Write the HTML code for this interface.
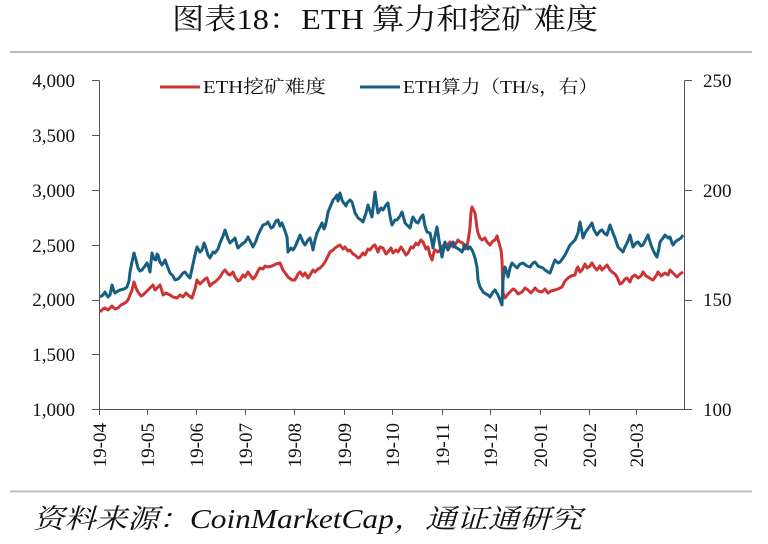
<!DOCTYPE html>
<html>
<head>
<meta charset="utf-8">
<style>
html,body{margin:0;padding:0;background:#fff;}
svg{display:block;}
</style>
</head>
<body>
<svg width="768" height="544" viewBox="0 0 768 544" xmlns="http://www.w3.org/2000/svg">
<rect width="768" height="544" fill="#fff"/>
<!-- title -->
<text x="172" y="29" font-family="'Liberation Serif','Noto Serif CJK SC',serif" font-size="29" fill="#111" textLength="426" lengthAdjust="spacingAndGlyphs">图表18：ETH 算力和挖矿难度</text>
<line x1="10" y1="52" x2="752" y2="52" stroke="#bdbdbd" stroke-width="2"/>
<line x1="10" y1="491.5" x2="752" y2="491.5" stroke="#bdbdbd" stroke-width="2"/>
<!-- footer -->
<text x="33" y="528" font-family="'Liberation Serif','Noto Serif CJK SC',serif" font-style="italic" font-size="27" fill="#111" textLength="549" lengthAdjust="spacingAndGlyphs">资料来源：CoinMarketCap，通证通研究</text>

<!-- axes -->
<g stroke="#555" stroke-width="1" fill="none">
<line x1="99.5" y1="80.5" x2="99.5" y2="409.5"/>
<line x1="684.5" y1="80.5" x2="684.5" y2="409.5"/>
<line x1="92" y1="409.5" x2="684.5" y2="409.5"/>
<line x1="92" y1="80.5" x2="99.5" y2="80.5"/>
<line x1="92" y1="135.5" x2="99.5" y2="135.5"/>
<line x1="92" y1="190.5" x2="99.5" y2="190.5"/>
<line x1="92" y1="245.5" x2="99.5" y2="245.5"/>
<line x1="92" y1="300.5" x2="99.5" y2="300.5"/>
<line x1="92" y1="354.5" x2="99.5" y2="354.5"/>
<line x1="684.5" y1="80.5" x2="692" y2="80.5"/>
<line x1="684.5" y1="190.5" x2="692" y2="190.5"/>
<line x1="684.5" y1="300.5" x2="692" y2="300.5"/>
<line x1="684.5" y1="409.5" x2="692" y2="409.5"/>
<line x1="99.5" y1="409.5" x2="99.5" y2="415"/>
<line x1="147.5" y1="409.5" x2="147.5" y2="415"/>
<line x1="196.5" y1="409.5" x2="196.5" y2="415"/>
<line x1="245.5" y1="409.5" x2="245.5" y2="415"/>
<line x1="294.5" y1="409.5" x2="294.5" y2="415"/>
<line x1="344.5" y1="409.5" x2="344.5" y2="415"/>
<line x1="392.5" y1="409.5" x2="392.5" y2="415"/>
<line x1="442.5" y1="409.5" x2="442.5" y2="415"/>
<line x1="490.5" y1="409.5" x2="490.5" y2="415"/>
<line x1="540.5" y1="409.5" x2="540.5" y2="415"/>
<line x1="589.5" y1="409.5" x2="589.5" y2="415"/>
<line x1="636.5" y1="409.5" x2="636.5" y2="415"/>
</g>

<!-- left labels -->
<g font-family="'Liberation Serif',serif" font-size="19" fill="#111" text-anchor="end">
<text x="75" y="87">4,000</text>
<text x="75" y="142">3,500</text>
<text x="75" y="197">3,000</text>
<text x="75" y="252">2,500</text>
<text x="75" y="306">2,000</text>
<text x="75" y="361">1,500</text>
<text x="75" y="416">1,000</text>
</g>
<!-- right labels -->
<g font-family="'Liberation Serif',serif" font-size="19" fill="#111">
<text x="703" y="87">250</text>
<text x="703" y="197">200</text>
<text x="703" y="306">150</text>
<text x="703" y="416">100</text>
</g>
<!-- x labels -->
<g font-family="'Liberation Serif',serif" font-size="19" fill="#111" text-anchor="end">
<text transform="translate(106,423) rotate(-90)">19-04</text>
<text transform="translate(154,423) rotate(-90)">19-05</text>
<text transform="translate(203,423) rotate(-90)">19-06</text>
<text transform="translate(252,423) rotate(-90)">19-07</text>
<text transform="translate(301,423) rotate(-90)">19-08</text>
<text transform="translate(351,423) rotate(-90)">19-09</text>
<text transform="translate(399,423) rotate(-90)">19-10</text>
<text transform="translate(449,423) rotate(-90)">19-11</text>
<text transform="translate(497,423) rotate(-90)">19-12</text>
<text transform="translate(547,423) rotate(-90)">20-01</text>
<text transform="translate(596,423) rotate(-90)">20-02</text>
<text transform="translate(643,423) rotate(-90)">20-03</text>
</g>

<!-- legend -->
<line x1="160" y1="87" x2="200" y2="87" stroke="#cc3333" stroke-width="3"/>
<text x="203" y="93" font-family="'Liberation Serif','Noto Serif CJK SC',serif" font-size="18" fill="#111" textLength="123" lengthAdjust="spacingAndGlyphs">ETH挖矿难度</text>
<line x1="360" y1="87" x2="400" y2="87" stroke="#165f83" stroke-width="3"/>
<text x="403" y="93" font-family="'Liberation Serif','Noto Serif CJK SC',serif" font-size="18" fill="#111" textLength="195" lengthAdjust="spacingAndGlyphs">ETH算力（TH/s，右）</text>

<!-- red series -->
<polyline fill="none" stroke="#cc3333" stroke-width="3" stroke-linejoin="round" points="100,312 103,309 105,308 108,310 112,306 115,309 118,308 121,305 125,303 128,300 130,295 132,290 134,282 136,288 138,292 141,296 143,295 146,292 148,290 151,287 153,285 155,290 157,288 160,285 162,291 163,295 166,293 170,295 173,297 177,298 180,295 183,297 186,293 188,295 192,298 195,289 197,280 200,284 202,282 205,279 207,278 210,286 213,283 215,282 218,279 220,277 223,272 225,270 228,274 230,275 233,272 235,277 238,281 240,280 243,275 245,277 248,272 250,275 253,279 255,277 258,271 260,268 263,269 265,266 268,267 272,266 276,264 280,263 283,270 286,274 288,277 292,280 295,280 298,274 300,272 303,276 305,273 308,278 310,275 313,270 315,272 318,269 320,268 323,265 325,262 328,256 330,252 333,250 335,248 338,246 340,245 343,249 345,247 348,251 350,250 353,254 355,255 358,258 360,257 363,253 365,255 368,249 370,250 373,246 375,245 378,252 380,247 383,248 386,254 388,252 391,248 393,253 396,250 398,252 401,247 403,250 406,255 408,253 411,247 413,248 416,243 418,245 421,240 423,242 426,249 428,247 430,255 432,260 434,252 435,250 438,252 440,250 443,246 445,243 448,245 450,242 453,247 455,245 458,240 460,242 463,243 465,249 467,247 469,235 470,227 471,212 472,207 474,211 475,213 477,228 478,233 480,238 482,240 485,238 487,242 490,245 493,241 495,240 497,236 499,243 501,250 502,260 503,293 505,298 508,294 510,292 513,289 515,290 518,294 522,292 525,288 528,290 531,293 535,288 538,291 542,292 545,289 548,293 551,291 555,290 558,289 562,287 565,281 568,278 571,276 575,275 577,268 578,267 580,272 582,270 585,264 587,268 590,266 592,263 595,268 597,270 600,266 602,270 605,267 607,265 610,270 612,272 615,274 617,277 620,284 622,283 625,279 627,278 630,282 632,277 635,275 638,278 641,276 643,272 646,276 648,277 651,279 653,280 656,276 658,272 661,276 665,273 668,275 670,270 673,273 677,277 680,274 683,272"/>

<!-- blue series -->
<polyline fill="none" stroke="#165f83" stroke-width="3" stroke-linejoin="round" points="100,297 103,295 105,292 108,297 110,295 112,285 114,291 115,293 118,291 120,290 124,289 127,287 129,281 130,272 132,262 134,253 136,260 138,268 140,271 142,270 145,266 147,263 149,268 150,272 151,262 152,253 154,259 156,260 157,254 158,255 160,262 162,265 164,262 165,260 168,268 170,273 173,276 175,280 178,279 180,277 183,273 185,272 188,276 190,278 193,264 195,255 197,247 200,252 202,250 204,243 205,245 208,255 210,258 213,252 215,253 218,249 220,243 223,236 225,230 228,239 230,243 233,240 235,238 237,245 238,248 241,245 245,242 247,239 248,237 251,243 253,247 256,241 258,235 261,229 263,225 266,224 268,222 271,228 273,227 276,221 278,220 280,226 282,223 285,231 287,237 288,252 291,248 293,250 295,247 298,240 300,235 303,242 305,245 308,240 310,238 312,245 313,250 315,240 317,233 320,227 322,223 324,229 325,227 327,218 328,212 331,205 333,200 335,198 337,195 338,201 340,193 342,200 343,202 346,206 347,203 350,200 352,202 354,209 355,213 357,216 358,218 361,220 363,222 366,213 368,205 370,211 372,217 374,200 375,192 377,207 378,213 381,208 383,210 386,205 388,203 390,216 392,225 395,220 397,220 400,216 402,212 404,219 405,223 408,226 410,228 412,220 413,217 416,222 418,223 421,217 423,215 425,226 427,232 430,233 432,242 433,248 435,236 437,227 439,240 442,257 444,247 445,242 447,248 448,250 451,244 453,242 455,247 457,248 460,250 462,252 464,247 465,245 468,249 470,247 472,250 473,252 475,258 477,267 478,280 480,287 482,290 483,292 486,294 488,295 490,297 493,292 495,290 498,295 500,300 502,305 503,280 505,267 507,273 508,277 510,268 512,263 515,266 517,268 520,264 523,263 527,266 530,267 533,263 535,262 538,266 540,267 543,268 545,270 548,272 550,273 553,265 555,260 558,263 560,262 563,258 565,255 568,249 570,245 573,242 575,240 578,233 580,222 582,232 583,238 585,233 587,230 590,226 592,223 594,230 597,235 600,231 602,230 605,234 607,235 609,228 610,225 613,233 615,238 617,244 618,247 621,250 623,252 625,247 627,243 629,238 630,235 632,243 633,247 636,243 638,242 641,246 643,245 646,239 648,235 651,245 653,250 655,254 657,257 659,248 660,242 663,238 665,235 668,238 670,237 672,243 673,245 676,241 678,240 681,238 683,235"/>
</svg>
</body>
</html>
